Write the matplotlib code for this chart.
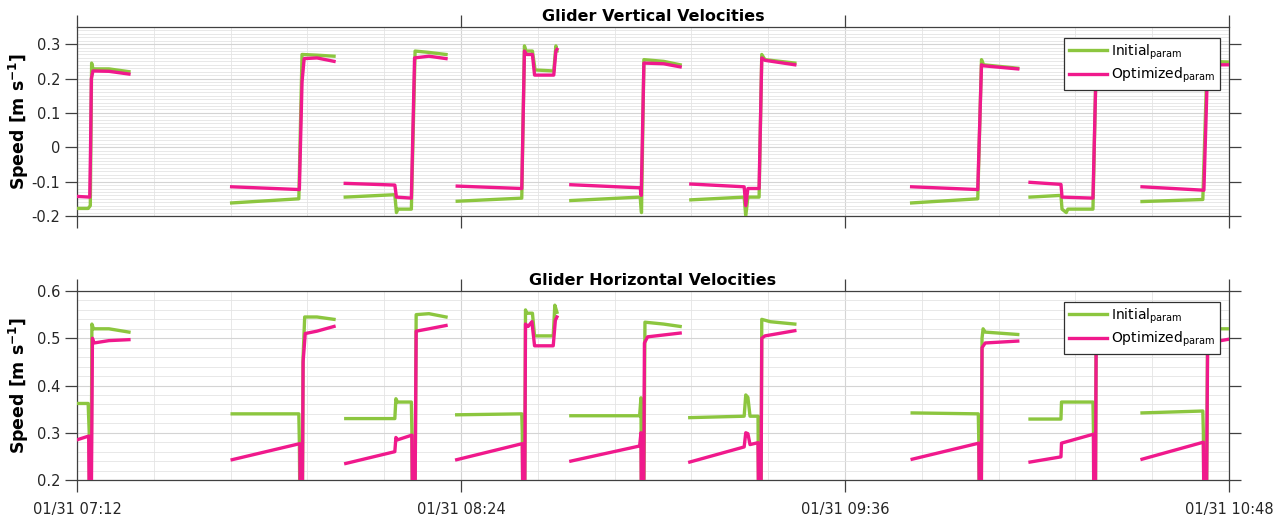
import numpy as np
import pandas as pd
import matplotlib
matplotlib.use("Agg")
import matplotlib.pyplot as plt
import matplotlib.dates as mdates
from matplotlib.ticker import FixedLocator, MultipleLocator

# ---------------------------------------------------------
# Data: glider speeds, time in minutes after 01/31 07:12
# (NaN separates consecutive dive segments)
# ---------------------------------------------------------
nan = np.nan
start = pd.Timestamp("2020-01-31 07:12")

# vertical velocity, initial parameters
vert_init_t = [0, 2.1, 2.5, 2.75, 3.0, 6, 9.75, nan,
               29.0, 41.6, 42.2, 45, 48.2, nan,
               50.3, 59.6, 59.9, 60.2, 62.7, 63.4, 66, 69.2, nan,
               71.3, 83.4, 83.9, 84.2, 85.4, 85.9, 89.4, 89.8, 90.0, nan,
               92.6, 105.6, 105.85, 106.3, 110, 113.1, nan,
               115.1, 125.1, 125.4, 125.8, 127.9, 128.4, 129, 134.6, nan,
               156.5, 168.9, 169.6, 170, 176.4, nan,
               178.7, 184.5, 184.7, 185.5, 185.8, 190.5, 191.1, 196.5, nan,
               199.7, 211.1, 211.9, 216]
vert_init_v = [-0.178, -0.178, -0.17, 0.245, 0.228, 0.228, 0.22, nan,
               -0.162, -0.15, 0.27, 0.268, 0.265, nan,
               -0.145, -0.138, -0.19, -0.18, -0.18, 0.28, 0.276, 0.27, nan,
               -0.157, -0.148, 0.295, 0.28, 0.28, 0.225, 0.222, 0.295, 0.28, nan,
               -0.155, -0.145, -0.19, 0.255, 0.25, 0.24, nan,
               -0.153, -0.145, -0.2, -0.145, -0.145, 0.27, 0.255, 0.245, nan,
               -0.162, -0.15, 0.255, 0.24, 0.23, nan,
               -0.145, -0.14, -0.18, -0.19, -0.18, -0.18, 0.25, 0.245, nan,
               -0.158, -0.152, 0.25, 0.248]

# vertical velocity, optimized parameters
vert_opt_t = [0, 2.4, 2.55, 2.7, 3.0, 6, 9.75, nan,
              29.0, 41.7, 42.2, 42.6, 45, 48.2, nan,
              50.3, 59.6, 59.9, 62.7, 63.3, 66, 69.2, nan,
              71.3, 83.4, 83.9, 84.3, 85.4, 85.8, 89.4, 89.8, 90.0, nan,
              92.6, 105.6, 105.8, 106.3, 110, 113.1, nan,
              115.1, 125.1, 125.4, 125.8, 127.9, 128.4, 129, 134.6, nan,
              156.5, 168.9, 169.6, 170, 176.4, nan,
              178.7, 184.5, 184.7, 190.5, 191.1, 196.5, nan,
              199.7, 211.3, 212.0, 216]
vert_opt_v = [-0.143, -0.145, 0.0, 0.2, 0.222, 0.221, 0.213, nan,
              -0.115, -0.123, 0.19, 0.258, 0.26, 0.25, nan,
              -0.105, -0.11, -0.145, -0.148, 0.26, 0.265, 0.258, nan,
              -0.113, -0.12, 0.28, 0.27, 0.27, 0.21, 0.21, 0.28, 0.285, nan,
              -0.109, -0.118, -0.14, 0.245, 0.243, 0.234, nan,
              -0.107, -0.115, -0.17, -0.12, -0.12, 0.26, 0.253, 0.24, nan,
              -0.115, -0.123, 0.24, 0.237, 0.228, nan,
              -0.102, -0.108, -0.145, -0.148, 0.24, 0.235, nan,
              -0.115, -0.125, 0.24, 0.24]

# horizontal velocity, initial parameters
horz_init_t = [0, 2.1, 2.3, 2.4, 2.6, 2.8, 3.1, 6, 9.75, nan,
               29.1, 41.6, 41.7, 41.9, 42.2, 42.4, 42.7, 45, 48.2, nan,
               50.4, 59.6, 59.8, 60.1, 62.7, 62.8, 63.0, 63.3, 63.6, 66, 69.2, nan,
               71.2, 83.4, 83.5, 83.7, 83.9, 84.1, 84.3, 85.4, 85.8, 89.3, 89.6, 90.0, nan,
               92.6, 105.5, 105.75, 105.9, 106.2, 106.5, 110, 113.1, nan,
               114.9, 125.1, 125.4, 125.8, 126.2, 127.7, 127.9, 128.2, 128.4, 130, 134.6, nan,
               156.6, 169.0, 169.1, 169.3, 169.5, 169.7, 169.9, 170.3, 176.4, nan,
               178.7, 184.5, 184.6, 190.5, 190.6, 190.7, 190.9, 191.1, 196.5, nan,
               199.7, 211.1, 211.2, 211.4, 211.7, 212.0, 216]
horz_init_v = [0.362, 0.362, 0.30, 0.0, 0.0, 0.53, 0.52, 0.52, 0.513, nan,
               0.34, 0.34, 0.28, 0.0, 0.0, 0.46, 0.545, 0.545, 0.54, nan,
               0.33, 0.33, 0.372, 0.365, 0.365, 0.30, 0.0, 0.0, 0.55, 0.552, 0.545, nan,
               0.338, 0.34, 0.30, 0.0, 0.0, 0.56, 0.553, 0.553, 0.505, 0.505, 0.57, 0.555, nan,
               0.336, 0.336, 0.374, 0.0, 0.0, 0.534, 0.53, 0.525, nan,
               0.332, 0.335, 0.38, 0.375, 0.335, 0.335, 0.0, 0.0, 0.54, 0.535, 0.53, nan,
               0.342, 0.34, 0.28, 0.0, 0.0, 0.5, 0.52, 0.513, 0.508, nan,
               0.329, 0.329, 0.365, 0.365, 0.30, 0.0, 0.0, 0.52, 0.515, nan,
               0.342, 0.346, 0.30, 0.0, 0.0, 0.52, 0.52]

# horizontal velocity, optimized parameters
horz_opt_t = [0, 2.2, 2.4, 2.6, 2.9, 3.2, 6, 9.75, nan,
              29.1, 41.8, 41.9, 42.2, 42.4, 42.8, 45, 48.2, nan,
              50.4, 59.6, 59.8, 60.1, 62.8, 63.0, 63.3, 63.6, 66, 69.2, nan,
              71.2, 83.5, 83.7, 83.9, 84.1, 84.6, 85.3, 85.8, 89.3, 89.7, 90.0, nan,
              92.6, 105.5, 105.75, 105.9, 106.2, 106.4, 107, 113.1, nan,
              114.9, 125.1, 125.4, 125.8, 126.2, 127.7, 127.9, 128.2, 128.4, 129, 134.6, nan,
              156.6, 169.1, 169.3, 169.5, 169.7, 170.3, 176.4, nan,
              178.7, 184.5, 184.6, 190.6, 190.7, 190.9, 191.1, 196.5, nan,
              199.7, 211.2, 211.4, 211.7, 212.0, 216]
horz_opt_v = [0.285, 0.293, 0.0, 0.0, 0.50, 0.49, 0.495, 0.497, nan,
              0.243, 0.277, 0.0, 0.0, 0.45, 0.51, 0.515, 0.525, nan,
              0.235, 0.26, 0.29, 0.285, 0.295, 0.0, 0.0, 0.515, 0.52, 0.527, nan,
              0.243, 0.277, 0.0, 0.0, 0.53, 0.525, 0.535, 0.484, 0.484, 0.538, 0.545, nan,
              0.24, 0.272, 0.30, 0.0, 0.0, 0.49, 0.503, 0.511, nan,
              0.238, 0.27, 0.30, 0.298, 0.275, 0.279, 0.0, 0.0, 0.50, 0.505, 0.516, nan,
              0.244, 0.278, 0.0, 0.0, 0.48, 0.49, 0.494, nan,
              0.238, 0.249, 0.278, 0.297, 0.0, 0.0, 0.49, 0.495, nan,
              0.244, 0.28, 0.0, 0.0, 0.49, 0.498]

vert_ticks = [-0.2, -0.1, 0, 0.1, 0.2, 0.3]
horz_ticks = [0.2, 0.3, 0.4, 0.5, 0.6]
labels = ["Initial$_{\\rm param}$", "Optimized$_{\\rm param}$"]

c_init = "#8cc63f"
c_opt = "#f0198c"
edge = "#404040"

t0 = mdates.date2num(start)


def to_num(minutes):
    return t0 + np.asarray(minutes, dtype=float) / 1440.0


major_x = to_num([0, 72, 144, 216])
minor_x = to_num(np.arange(0, 216.1, 14.4))

fig = plt.figure(figsize=(12.87, 5.23), dpi=100)
ax1 = fig.add_axes([0.0598, 0.587, 0.8951, 0.3614])
ax2 = fig.add_axes([0.0598, 0.0822, 0.8951, 0.3614])

panels = [
    (ax1, vert_init_t, vert_init_v, vert_opt_t, vert_opt_v, vert_ticks, (-0.2, 0.35), 0.01,
     "Glider Vertical Velocities"),
    (ax2, horz_init_t, horz_init_v, horz_opt_t, horz_opt_v, horz_ticks, (0.2, 0.6), 0.02,
     "Glider Horizontal Velocities"),
]

for ax, ti, vi, to, vo, yt, ylim, yminor, title in panels:
    ax.plot(to_num(ti), vi, color=c_init, lw=2.4, label=labels[0], zorder=3)
    ax.plot(to_num(to), vo, color=c_opt, lw=2.4, label=labels[1], zorder=4)

    ax.set_xlim(major_x[0], major_x[-1])
    ax.set_ylim(*ylim)
    ax.xaxis.set_major_locator(FixedLocator(major_x))
    ax.xaxis.set_minor_locator(FixedLocator(minor_x))
    ax.xaxis.set_major_formatter(mdates.DateFormatter("%m/%d %H:%M"))
    ax.yaxis.set_major_locator(FixedLocator(yt))
    ax.yaxis.set_minor_locator(MultipleLocator(yminor))
    ax.yaxis.set_major_formatter(lambda v, p: f"{v:g}")

    ax.grid(which="major", color="#d4d4d4", lw=0.8, zorder=0)
    ax.grid(which="minor", color="#e4e4e4", lw=0.6, zorder=0)
    ax.set_axisbelow(True)

    ax.tick_params(which="major", direction="out", length=8.5, width=0.9,
                   colors=edge, labelcolor="#262626", labelsize=10.5,
                   top=True, right=True, labeltop=False, labelright=False)
    ax.tick_params(axis="x", which="major", pad=7)
    ax.tick_params(which="minor", length=0)
    for s in ax.spines.values():
        s.set_color(edge)
        s.set_linewidth(0.9)

    ax.set_title(title, fontsize=11.5, fontweight="bold", pad=4)
    ax.set_ylabel("Speed [m s$^{\\mathbf{-1}}$]", fontsize=12.5, fontweight="bold")
    ax.yaxis.set_label_coords(-0.04, 0.5)

    leg = ax.legend(loc="upper right", bbox_to_anchor=(0.992, 0.944), borderaxespad=0,
                    fontsize=10, fancybox=False, framealpha=1, edgecolor="#303030",
                    handlelength=2.7, handletextpad=0.3, borderpad=0.35,
                    labelspacing=0.3)
    leg.get_frame().set_linewidth(0.9)

ax1.tick_params(labelbottom=False)

fig.savefig("out.png", dpi=100)
